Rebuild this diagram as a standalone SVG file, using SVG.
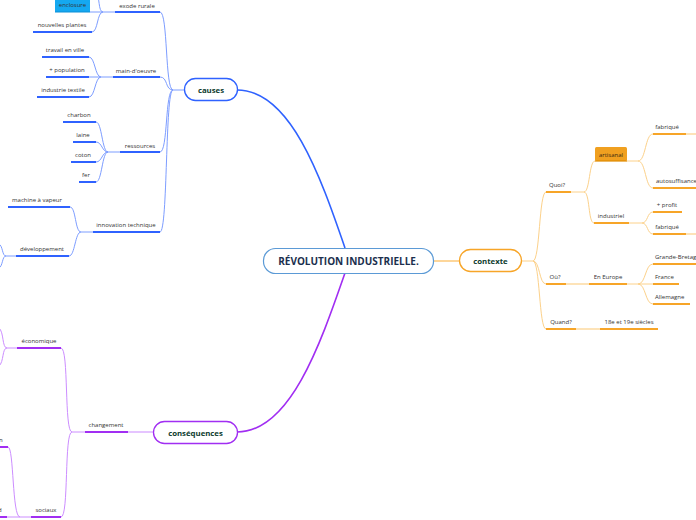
<svg xmlns="http://www.w3.org/2000/svg" width="696" height="520" viewBox="0 0 696 520">
<style>
text{font-family:"Open Sans","Noto Sans",sans-serif;font-size:6px;fill:#333;}
.mid{text-anchor:middle;}
.main{font-size:7.8px;font-weight:bold;fill:#0d3b2e;text-anchor:middle;}
.root{font-size:10px;font-weight:bold;fill:#1b2f4e;text-anchor:middle;}
.bu{stroke:#2f62ff;stroke-width:2;fill:none;}
.bc{stroke:#7d9dff;stroke-width:1;fill:none;}
.ou{stroke:#f7a528;stroke-width:2;fill:none;}
.oc{stroke:#fcd18a;stroke-width:1;fill:none;}
.ol{stroke:#fde3b8;stroke-width:2;fill:none;}
.pu{stroke:#a12ef2;stroke-width:2;fill:none;}
.pc{stroke:#cc8dff;stroke-width:1;fill:none;}
.pl{stroke:#dcb0ff;stroke-width:1.5;fill:none;}
</style>
<g id="connectors">
<!-- main connectors -->
<path d="M237,90 C290,90 320,175 345,248" stroke="#2f62ff" stroke-width="1.6" fill="none"/>
<path d="M237,432 C290,432 320,345 345,273" stroke="#a12ef2" stroke-width="1.6" fill="none"/>
<path d="M433,261 H459" stroke="#fcc978" stroke-width="1.5" fill="none"/>
<!-- causes -->
<path class="bc" d="M184,90 H173"/>
<path class="bc" d="M173,90 C165,90 168,12 160,12"/>
<path class="bc" d="M173,90 C165,90 168,77 160,77"/>
<path class="bc" d="M173,90 C165,90 168,152 160,152"/>
<path class="bc" d="M173,90 C165,90 168,232 160,232"/>
<path class="bc" d="M115,12 H103 M103,12 H90"/>
<path class="bc" d="M103,12 C97,12 98,32 92,32"/>
<path class="bc" d="M103,12 C98,12 100,-4 96,-8"/>
<path class="bc" d="M113,77 H101"/>
<path class="bc" d="M101,77 C95,77 95,57 89,57"/>
<path class="bc" d="M101,77 H89"/>
<path class="bc" d="M101,77 C95,77 95,97 89,97"/>
<path class="bc" d="M120,152 H108"/>
<path class="bc" d="M108,152 C102,152 102,122 96,122"/>
<path class="bc" d="M108,152 C102,152 102,142 96,142"/>
<path class="bc" d="M108,152 C102,152 102,162 96,162"/>
<path class="bc" d="M108,152 C102,152 102,182 96,182"/>
<path class="bc" d="M93,232 H81"/>
<path class="bc" d="M81,232 C75,232 76,207 70,207"/>
<path class="bc" d="M81,232 C75,232 75,256 69,256"/>
<path class="bc" d="M16,256 H6"/>
<path class="bc" d="M6,256 C2,256 3,246 -1,244"/>
<path class="bc" d="M6,256 C2,256 3,266 -1,268"/>
<!-- contexte -->
<path class="oc" d="M521,261 H533"/>
<path class="oc" d="M533,261 C540,261 539,192 546,192"/>
<path class="oc" d="M533,261 C540,261 539,284 546,284"/>
<path class="oc" d="M533,261 C540,261 539,329 546,329"/>
<path class="oc" d="M571,192 H584"/>
<path class="oc" d="M584,192 C590,192 589,161 595,161"/>
<path class="oc" d="M584,192 C590,192 588,223 594,223"/>
<path class="oc" d="M627,161 H638"/>
<path class="oc" d="M638,161 C646,161 645,134 653,134"/>
<path class="oc" d="M638,161 C646,161 645,188 653,188"/>
<path class="oc" d="M629,223 H642"/>
<path class="oc" d="M642,223 C648,223 647,212 653,212"/>
<path class="oc" d="M642,223 C648,223 647,234 653,234"/>
<path class="ol" d="M566,284 H589"/>
<path class="oc" d="M627,284 H638"/>
<path class="oc" d="M638,284 C646,284 645,264 653,264"/>
<path class="oc" d="M638,284 H653"/>
<path class="oc" d="M638,284 C646,284 645,304 653,304"/>
<path class="ol" d="M576,329 H600"/>
<path class="ol" d="M686,134 H696 M686,234 H696"/>
<!-- consequences -->
<path class="pl" d="M128,432 H153"/>
<path class="pc" d="M85,432 H72"/>
<path class="pc" d="M72,432 C64,432 69,348 61,348"/>
<path class="pc" d="M72,432 C64,432 69,517 61,517"/>
<path class="pc" d="M17,348 H7"/>
<path class="pc" d="M7,348 C2,348 4,332 -1,328"/>
<path class="pc" d="M7,348 C2,348 4,362 -1,366"/>
<path class="pc" d="M31,517 H20"/>
<path class="pc" d="M20,517 C12,517 14,447 8,447"/>
<path class="pc" d="M20,517 H7"/>
</g>
<g id="root"><rect x="263.5" y="248.5" width="170" height="25" rx="12" fill="#fff" stroke="#5b9ad6" stroke-width="1.2"/><text class="root" x="348.5" y="265">RÉVOLUTION INDUSTRIELLE.</text></g>
<g id="causes"><rect x="184.5" y="78.5" width="53" height="22" rx="11" fill="#fff" stroke="#2f62ff" stroke-width="1.3"/><text class="main" x="211" y="92.5">causes</text></g>
<g id="contexte"><rect x="459.5" y="249.5" width="62" height="22" rx="11" fill="#fff" stroke="#f7a528" stroke-width="1.3"/><text class="main" x="490.5" y="264">contexte</text></g>
<g id="consequences"><rect x="153.5" y="421.5" width="84" height="22" rx="11" fill="#fff" stroke="#a12ef2" stroke-width="1.3"/><text class="main" x="195.5" y="436">conséquences</text></g>
<!-- causes children -->
<g id="exode"><path class="bu" d="M115,12 H160"/><text class="mid" x="137" y="8">exode rurale</text></g>
<g id="main-oeuvre"><path class="bu" d="M113,77 H160"/><text class="mid" x="136" y="73">main-d'oeuvre</text></g>
<g id="ressources"><path class="bu" d="M120,152 H160"/><text class="mid" x="140" y="148">ressources</text></g>
<g id="innovation"><path class="bu" d="M93,232 H160"/><text class="mid" x="126" y="227">innovation technique</text></g>
<g id="enclosure"><rect x="55" y="-3" width="35" height="15" fill="#15a8f0"/><path d="M55,12 H90" stroke="#0d8fd6" stroke-width="1"/><text class="mid" x="72.5" y="7">enclosure</text></g>
<g id="plantes"><path class="bu" d="M33,32 H92"/><text class="mid" x="62" y="27">nouvelles plantes</text></g>
<g id="travail"><path class="bu" d="M42,57 H89"/><text class="mid" x="65" y="52">travail en ville</text></g>
<g id="population"><path class="bu" d="M46,77 H89"/><text class="mid" x="67" y="72">+ population</text></g>
<g id="textile"><path class="bu" d="M37,97 H89"/><text class="mid" x="63" y="92">industrie textile</text></g>
<g id="charbon"><path class="bu" d="M63,122 H96"/><text class="mid" x="79" y="117">charbon</text></g>
<g id="laine"><path class="bu" d="M73,142 H96"/><text class="mid" x="83" y="137">laine</text></g>
<g id="coton"><path class="bu" d="M71,162 H96"/><text class="mid" x="83" y="157">coton</text></g>
<g id="fer"><path class="bu" d="M79,182 H96"/><text class="mid" x="86" y="177">fer</text></g>
<g id="vapeur"><path class="bu" d="M8,207 H70"/><text class="mid" x="37" y="202">machine à vapeur</text></g>
<g id="developpement"><path class="bu" d="M16,256 H69"/><text class="mid" x="42" y="251">développement</text></g>
<!-- contexte children -->
<g id="quoi"><path class="ou" d="M546,192 H571"/><text class="mid" x="557" y="187">Quoi?</text></g>
<g id="artisanal"><rect x="595" y="147" width="32" height="14" rx="1.5" fill="#f0a020"/><path d="M595,161 H627" stroke="#e08a00" stroke-width="1.2"/><text class="mid" x="611" y="157" style="fill:#3a2a10">artisanal</text></g>
<g id="fabrique1"><path class="ou" d="M653,134 H686"/><text class="mid" x="667" y="129">fabriqué</text></g>
<g id="autosuffisance"><path class="ou" d="M653,188 H696"/><text x="656" y="183">autosuffisance</text></g>
<g id="industriel"><path class="ou" d="M594,223 H629"/><text class="mid" x="611" y="218">industriel</text></g>
<g id="profit"><path class="ou" d="M653,212 H682"/><text class="mid" x="667" y="207">+ profit</text></g>
<g id="fabrique2"><path class="ou" d="M653,234 H686"/><text class="mid" x="667" y="229">fabriqué</text></g>
<g id="ou"><path class="ou" d="M546,284 H566"/><text class="mid" x="555" y="279">Où?</text></g>
<g id="europe"><path class="ou" d="M589,284 H627"/><text class="mid" x="608" y="279">En Europe</text></g>
<g id="gb"><path class="ou" d="M653,264 H696"/><text x="655" y="259">Grande-Bretagne</text></g>
<g id="france"><path class="ou" d="M653,284 H679"/><text x="655" y="279">France</text></g>
<g id="allemagne"><path class="ou" d="M653,304 H690"/><text x="655" y="299">Allemagne</text></g>
<g id="quand"><path class="ou" d="M546,329 H576"/><text class="mid" x="561" y="324">Quand?</text></g>
<g id="siecles"><path class="ou" d="M600,329 H658"/><text class="mid" x="629" y="324">18e et 19e siècles</text></g>
<!-- consequences children -->
<g id="changement"><path class="pu" d="M85,432 H128"/><text class="mid" x="106" y="427">changement</text></g>
<g id="economique"><path class="pu" d="M17,348 H61"/><text class="mid" x="39" y="343">économique</text></g>
<g id="sociaux"><path class="pu" d="M31,517 H61"/><text class="mid" x="46" y="512">sociaux</text></g>
<g id="cut1"><path class="pu" d="M-2,447 H8"/><text x="-1" y="442">n</text></g>
<g id="cut2"><path class="pu" d="M-2,517 H7"/><text x="-2" y="512">d</text></g>
</svg>
